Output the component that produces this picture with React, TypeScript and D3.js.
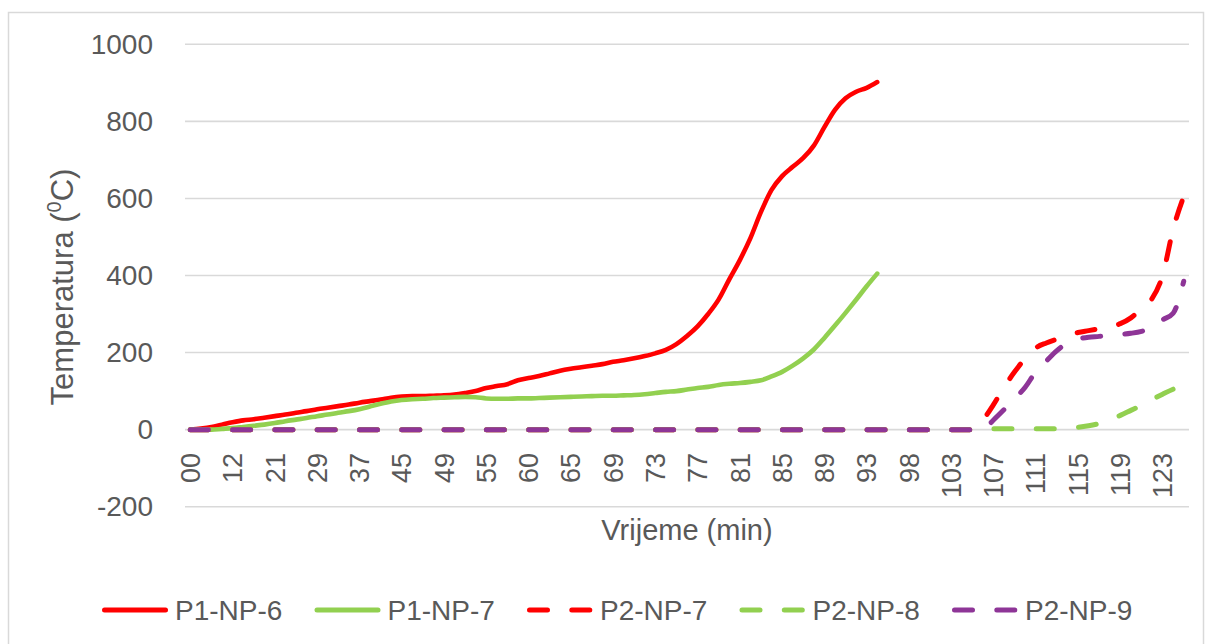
import React from "react";
import * as d3 from "d3";

// ---- Data ----
const tickLabels = ["00","12","21","29","37","45","49","55","60","65","69","73","77","81","85","89","93","98","103","107","111","115","119","123"];
const categoryCount = 95; // number of time samples on the category axis
const tickEvery = 4; // a label is shown for every 4th category
const yTicks = [-200, 0, 200, 400, 600, 800, 1000];

const P1_NP_6 = [0,3,7,13,19,24,27,31,35,39,44,48,53,57,61,65,70,74,78,83,86,87,87,88,89,91,95,100,108,113,118,128,134,139,146,153,158,162,166,170,176,180,185,191,198,207,222,243,268,300,338,390,440,497,565,622,658,682,705,737,785,830,860,877,887,902];
const P1_NP_7 = [0,0,0,2,4,7,10,13,17,22,26,30,35,39,44,48,53,60,67,73,77,79,80,82,83,84,85,84,81,80,80,81,81,82,83,84,85,86,87,88,88,89,90,92,95,98,100,104,108,111,116,119,121,124,128,138,150,166,185,208,238,270,303,337,372,405];
const P2_NP_7 = [0,0,0,0,0,0,0,0,0,0,0,0,0,0,0,0,0,0,0,0,0,0,0,0,0,0,0,0,0,0,0,0,0,0,0,0,0,0,0,0,0,0,0,0,0,0,0,0,0,0,0,0,0,0,0,0,0,0,0,0,0,0,0,0,0,0,0,0,0,0,0,0,0,0,0,25,65,110,150,185,212,225,235,245,252,257,262,267,275,290,315,340,400,520,605];
const P2_NP_8 = [0,0,0,0,0,0,0,0,0,0,0,0,0,0,0,0,0,0,0,0,0,0,0,0,0,0,0,0,0,0,0,0,0,0,0,0,0,0,0,0,0,0,0,0,0,0,0,0,0,0,0,0,0,0,0,0,0,0,0,0,0,0,0,0,0,0,0,0,0,0,0,0,0,0,0,2,2,2,2,2,2,2,2,4,6,10,16,25,37,50,63,78,92,105,115];
const P2_NP_9 = [0,0,0,0,0,0,0,0,0,0,0,0,0,0,0,0,0,0,0,0,0,0,0,0,0,0,0,0,0,0,0,0,0,0,0,0,0,0,0,0,0,0,0,0,0,0,0,0,0,0,0,0,0,0,0,0,0,0,0,0,0,0,0,0,0,0,0,0,0,0,0,0,0,0,0,0,25,52,80,110,150,178,205,225,235,240,242,245,247,250,255,265,285,302,385];

const seriesNames = ["P1-NP-6", "P1-NP-7", "P2-NP-7", "P2-NP-8", "P2-NP-9"];
const seriesValues = [P1_NP_6, P1_NP_7, P2_NP_7, P2_NP_8, P2_NP_9];
const seriesColors = ["#FF0000", "#92D050", "#FF0000", "#92D050", "#8E3597"];
const seriesDashed = [false, false, true, true, true];

const TEXT = "#595959";
const GRID = "#d9d9d9";
const FONT = "'Liberation Sans', Arial, sans-serif";

export default function App() {
  const W = 1205, H = 644;
  const plotL = 185, plotR = 1189;
  const x = d3.scaleLinear().domain([-0.5, categoryCount - 0.5]).range([plotL, plotR]);
  const y = d3.scaleLinear().domain([-200, 1000]).range([506.7, 44.3]);

  const line = d3.line<number>()
    .x((_, i) => x(i))
    .y((d) => y(d))
    .curve(d3.curveMonotoneX);

  const dash = "18 24.3";
  const legendStart = 102, legendStep = 212.5, sampleLen = 66, legendY = 610;

  return (
    <svg width={W} height={H} style={{ position: "absolute", left: 0, top: 0, background: "#fff" }} fontFamily={FONT}>
      <rect x={0} y={0} width={W} height={H} fill="#fff" />
      <rect x={8.5} y={12.5} width={1195} height={660} fill="#fff" stroke={GRID} strokeWidth={1.5} />

      {/* gridlines */}
      {yTicks.map((t) => (
        <line key={t} x1={plotL} x2={plotR} y1={y(t)} y2={y(t)} stroke={GRID} strokeWidth={1.6} />
      ))}

      {/* y tick labels */}
      {yTicks.map((t) => (
        <text key={"yl" + t} x={153} y={y(t) + 9.5} textAnchor="end" fontSize={28} fill={TEXT}>{t}</text>
      ))}

      {/* x tick labels */}
      {tickLabels.map((lab, i) => (
        <text key={"xl" + i} transform={`translate(${x(i * tickEvery)},453) rotate(-90)`} textAnchor="end" dy="0.36em" fontSize={27} fill={TEXT}>{lab}</text>
      ))}

      {/* axis titles */}
      <text x={687} y={540} textAnchor="middle" fontSize={29} fill={TEXT}>Vrijeme (min)</text>
      <text transform="translate(73,287) rotate(-90)" textAnchor="middle" fontSize={31} fill={TEXT}>
        Temperatura (<tspan fontSize={20} dy={-12}>0</tspan><tspan dy={12}>C)</tspan>
      </text>

      {/* series */}
      {seriesValues.map((vals, si) => (
        <path key={"s" + si} d={line(vals) || ""} fill="none" stroke={seriesColors[si]} strokeWidth={seriesDashed[si] ? 5 : 4.6}
          strokeLinecap="round" strokeLinejoin="round" strokeDasharray={seriesDashed[si] ? dash : undefined} />
      ))}

      {/* legend */}
      {seriesNames.map((name, si) => {
        const lx = legendStart + si * legendStep;
        return (
          <g key={"lg" + si}>
            <line x1={lx + 2.5} x2={lx + sampleLen - 2.5} y1={legendY} y2={legendY} stroke={seriesColors[si]} strokeWidth={5}
              strokeLinecap="round" strokeDasharray={seriesDashed[si] ? dash : undefined} />
            <text x={lx + sampleLen + 7} y={legendY + 10} fontSize={28} fill={TEXT}>{name}</text>
          </g>
        );
      })}
    </svg>
  );
}
